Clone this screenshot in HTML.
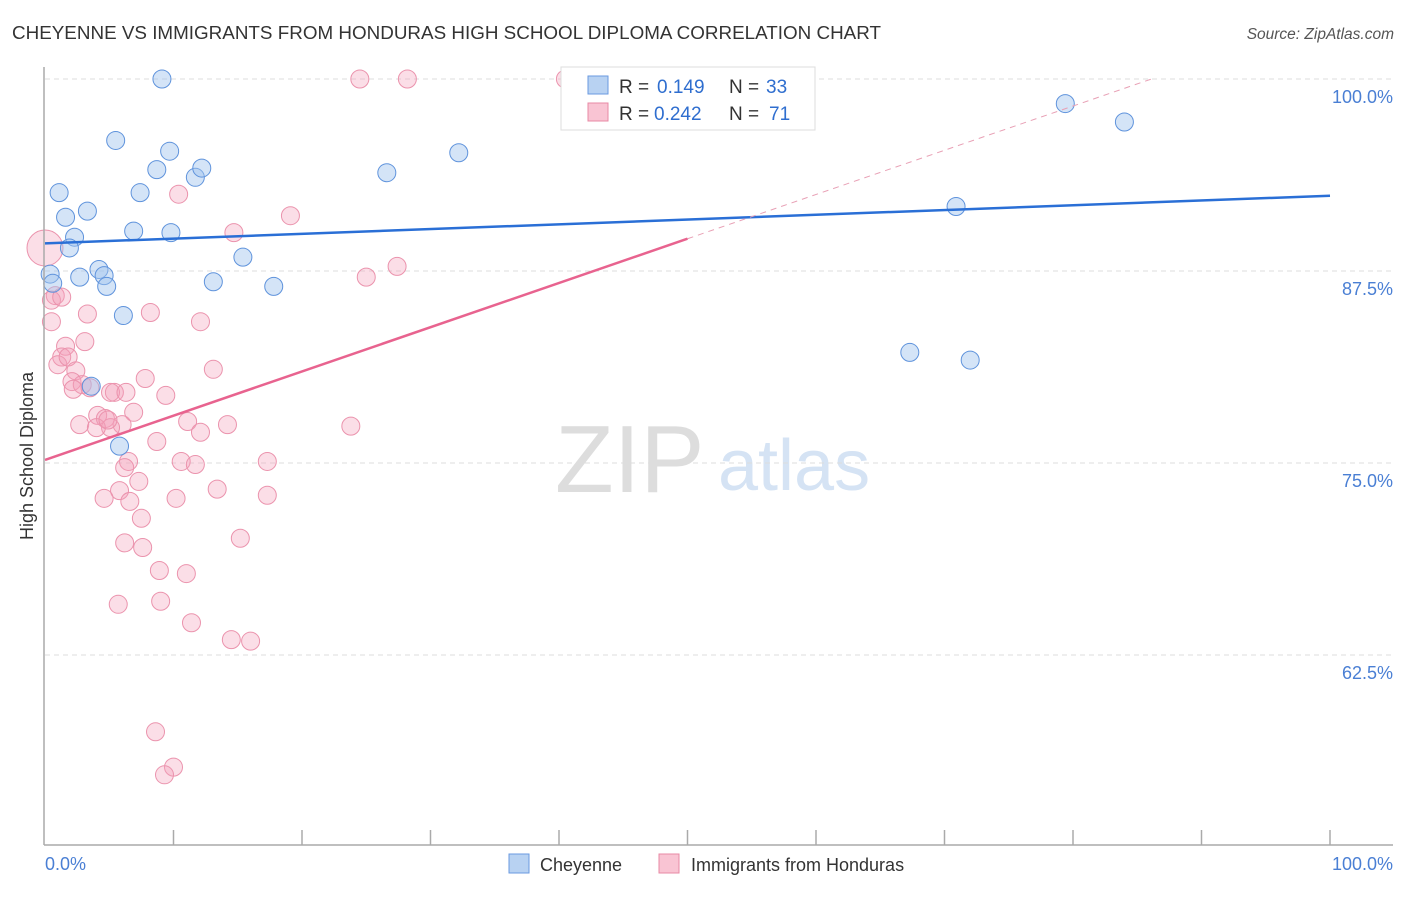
<!DOCTYPE html>
<html><head><meta charset="utf-8"><style>
body{margin:0;background:#fff;font-family:"Liberation Sans",sans-serif}
svg text{font-family:"Liberation Sans",sans-serif}
</style></head><body>
<svg id="c" width="1406" height="892">
<text x="12" y="39" font-size="18" fill="#333" textLength="869" lengthAdjust="spacingAndGlyphs">CHEYENNE VS IMMIGRANTS FROM HONDURAS HIGH SCHOOL DIPLOMA CORRELATION CHART</text>
<text x="1394" y="39" font-size="15.5" fill="#555" font-style="italic" text-anchor="end">Source: ZipAtlas.com</text>
<text x="0" y="0" font-size="18" fill="#333" text-anchor="middle" transform="translate(33,456) rotate(-90)">High School Diploma</text>
<text x="555" y="492" font-size="96" fill="#ddd" font-family="Liberation Serif">ZIP</text>
<text x="718" y="490" font-size="72" fill="#d5e3f4">atlas</text>
<g id="grid"></g><g id="pts"></g><g id="lines"></g>
<line x1="44" y1="67" x2="44" y2="845" stroke="#aaa" stroke-width="1.5"/>
<line x1="44" y1="845" x2="1393" y2="845" stroke="#aaa" stroke-width="1.5"/>
<text x="45" y="870" font-size="18" fill="#4a7fd4">0.0%</text>
<text x="1393" y="870" font-size="18" fill="#4a7fd4" text-anchor="end">100.0%</text>
<g>
<rect x="561" y="67" width="254" height="63" fill="#fff" stroke="#ddd"/>
<rect x="588" y="76" width="20" height="18" fill="#b8d2f2" stroke="#6a9ae0"/>
<rect x="588" y="103" width="20" height="18" fill="#f9c4d3" stroke="#e88aa5"/>
<text x="619" y="93" font-size="19" fill="#333">R =</text>
<text x="657" y="93" font-size="19" fill="#2f6ecf">0.149</text>
<text x="729" y="93" font-size="19" fill="#333">N =</text>
<text x="766" y="93" font-size="19" fill="#2f6ecf">33</text>
<text x="619" y="120" font-size="19" fill="#333">R =</text>
<text x="654" y="120" font-size="19" fill="#2f6ecf">0.242</text>
<text x="729" y="120" font-size="19" fill="#333">N =</text>
<text x="769" y="120" font-size="19" fill="#2f6ecf">71</text>
</g>
<g><rect x="509" y="854" width="20" height="19" fill="#b8d2f2" stroke="#6a9ae0"/><text x="540" y="871" font-size="18" fill="#333">Cheyenne</text></g>
<g><rect x="659" y="854" width="20" height="19" fill="#f9c4d3" stroke="#e88aa5"/><text x="691" y="871" font-size="18" fill="#333">Immigrants from Honduras</text></g>
</svg>
<script>
const yTicks=[100,87.5,75,62.5];
const yTickLabels=["100.0%","87.5%","75.0%","62.5%"];
const xTicks=[10,20,30,40,50,60,70,80,90,100];
const blueX=[9.1,5.5,8.7,9.7,11.7,12.2,7.4,1.1,3.3,1.6,6.9,9.8,2.3,1.9,15.4,4.2,4.6,2.7,13.1,17.8,4.8,0.4,0.6,6.1,3.6,5.8,26.6,32.2,70.9,79.4,84.0,67.3,72.0];
const blueY=[100,96.0,94.1,95.3,93.6,94.2,92.6,92.6,91.4,91.0,90.1,90.0,89.7,89.0,88.4,87.6,87.2,87.1,86.8,86.5,86.5,87.3,86.7,84.6,80.0,76.1,93.9,95.2,91.7,98.4,97.2,82.2,81.7];
const pinkX=[0,24.5,28.2,40.5,10.4,19.1,14.7,27.4,25.0,0.8,0.5,0.5,3.3,8.2,12.1,3.1,1.6,1.3,1.0,1.8,2.4,2.1,2.9,3.5,5.4,5.1,7.8,9.4,13.1,4.1,2.7,4.7,6.0,5.1,4.0,6.9,11.1,12.1,14.2,23.8,8.7,6.5,6.2,10.6,11.7,17.3,7.3,5.8,4.6,6.6,10.2,13.4,17.3,7.5,6.2,7.6,15.2,8.9,11.0,5.7,9.0,11.4,14.5,16.0,8.6,10.0,9.3,1.3,2.2,4.9,6.3];
const pinkY=[89.0,100,100,100,92.5,91.1,90.0,87.8,87.1,85.9,85.6,84.2,84.7,84.8,84.2,82.9,82.6,81.9,81.4,81.9,81.0,80.3,80.1,79.9,79.6,79.6,80.5,79.4,81.1,78.1,77.5,77.9,77.5,77.3,77.3,78.3,77.7,77.0,77.5,77.4,76.4,75.1,74.7,75.1,74.9,75.1,73.8,73.2,72.7,72.5,72.7,73.3,72.9,71.4,69.8,69.5,70.1,68.0,67.8,65.8,66.0,64.6,63.5,63.4,57.5,55.2,54.7,85.8,79.8,77.8,79.6];
const blueTrend=[89.3,92.4];
const pinkTrend=[75.2,89.6];
const NS="http://www.w3.org/2000/svg";
const X=v=>45+v/100*1285, Y=v=>79+(100-v)/12.5*192;
function mk(t,a,p){const e=document.createElementNS(NS,t);for(const k in a)e.setAttribute(k,a[k]);p.appendChild(e);return e;}
const grid=document.getElementById('grid'),pts=document.getElementById('pts'),lines=document.getElementById('lines');
yTicks.forEach((t,i)=>{
 const l=mk('line',{x1:45,x2:1393,y1:Y(t),y2:Y(t),stroke:'#ddd','stroke-dasharray':'5,4'},grid);
 
 
 const tx=mk('text',{x:1393,y:Y(t)+24,'font-size':18,fill:'#4a7fd4','text-anchor':'end'},grid);
 tx.textContent=yTickLabels[i];
 
 
});
xTicks.forEach(t=>{
 const l=mk('line',{x1:X(t),x2:X(t),y1:830,y2:845,stroke:'#aaa','stroke-width':1.5},grid);
 
 
});
pinkX.forEach((x,i)=>{
 const c=mk('circle',{cx:X(x),cy:Y(pinkY[i]),r:i==0?18:9,fill:'rgba(244,160,185,0.35)',stroke:'#eb93ad','stroke-width':1},pts);
 
 
});
blueX.forEach((x,i)=>{
 const c=mk('circle',{cx:X(x),cy:Y(blueY[i]),r:9,fill:'rgba(160,195,238,0.45)',stroke:'#5f93dc','stroke-width':1},pts);
 
 
});
const bl=mk('line',{x1:X(0),y1:Y(blueTrend[0]),x2:X(100),y2:Y(blueTrend[1]),stroke:'#2a6fd6','stroke-width':2.5},lines);


const slope=(pinkTrend[1]-pinkTrend[0])/50;
const xEnd=Math.min(100,(100-pinkTrend[0])/slope);
const pd=mk('line',{x1:X(50),y1:Y(pinkTrend[1]),x2:X(xEnd),y2:Y(pinkTrend[0]+slope*xEnd),stroke:'#e8a0b5','stroke-width':1,'stroke-dasharray':'6,5'},lines);


const pl=mk('line',{x1:X(0),y1:Y(pinkTrend[0]),x2:X(50),y2:Y(pinkTrend[1]),stroke:'#e8638f','stroke-width':2.5},lines);


</script>
</body></html>
